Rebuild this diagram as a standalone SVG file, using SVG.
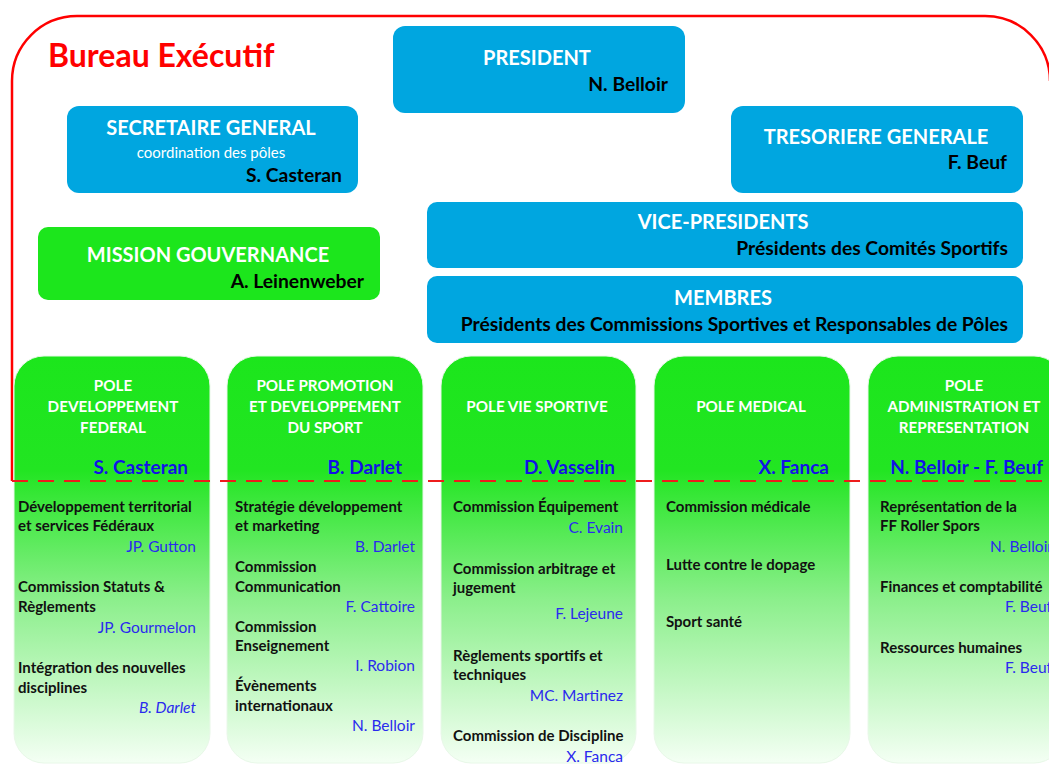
<svg xmlns="http://www.w3.org/2000/svg" width="1049" height="764" viewBox="0 0 1049 764">
<defs>
<linearGradient id="poleGrad" x1="0" y1="0" x2="0" y2="1">
<stop offset="0" stop-color="#1ce61c"/>
<stop offset="0.28" stop-color="#22e522"/>
<stop offset="0.6" stop-color="#8cef8c"/>
<stop offset="1" stop-color="#f4fff4"/>
</linearGradient>
<style>
text{font-family:Lato,"Open Sans","Liberation Sans",sans-serif}
.blue{fill:#00a6e0}
.green{fill:#1ce61c}
.pole{fill:url(#poleGrad);stroke:#e8f8e8;stroke-width:1}
.h{fill:#fff;font-weight:bold;font-size:20px;text-anchor:middle}
.sub{fill:#000;font-weight:bold;font-size:19.3px;text-anchor:end}
.ph{fill:#fff;font-weight:bold;font-size:15.2px;text-anchor:middle}
.pn{fill:#1212e6;font-weight:bold;font-size:19px;text-anchor:end}
.it{fill:#111;font-weight:bold;font-size:15px}
.nm{fill:#2a2aee;font-size:15.5px;text-anchor:end}
</style>
</defs>
<rect width="1049" height="764" fill="#fff"/>
<g id="frame">
<path d="M12 481 V81 A65 65 0 0 1 77 16 H985 A65 65 0 0 1 1050 81" fill="none" stroke="#ff0000" stroke-width="2.5"/>
<text x="48" y="67" font-size="32" font-weight="bold" fill="#ff0000">Bureau Exécutif</text>
</g>
<g id="president">
<rect class="blue" x="393" y="26" width="292" height="87" rx="12"/>
<text class="h" x="537" y="65">PRESIDENT</text>
<text class="sub" x="668" y="91">N. Belloir</text>
</g>
<g id="secretaire">
<rect class="blue" x="67" y="106" width="291" height="87" rx="12"/>
<text class="h" x="211" y="135">SECRETAIRE GENERAL</text>
<text x="211" y="158" fill="#fff" font-size="15" text-anchor="middle">coordination des pôles</text>
<text class="sub" x="342" y="182">S. Casteran</text>
</g>
<g id="tresoriere">
<rect class="blue" x="731" y="106" width="292" height="87" rx="12"/>
<text class="h" x="876" y="144">TRESORIERE GENERALE</text>
<text class="sub" x="1007" y="169">F. Beuf</text>
</g>
<g id="mission">
<rect class="green" x="38" y="227" width="342" height="73" rx="10"/>
<text class="h" x="208" y="262">MISSION GOUVERNANCE</text>
<text class="sub" x="364" y="288">A. Leinenweber</text>
</g>
<g id="vice">
<rect class="blue" x="427" y="202" width="596" height="66" rx="10"/>
<text class="h" x="723" y="229">VICE-PRESIDENTS</text>
<text class="sub" x="1008" y="255">Présidents des Comités Sportifs</text>
</g>
<g id="membres">
<rect class="blue" x="427" y="276" width="596" height="67" rx="10"/>
<text class="h" x="723" y="305">MEMBRES</text>
<text class="sub" x="1008" y="331">Présidents des Commissions Sportives et Responsables de Pôles</text>
</g>
<g id="pole1">
<rect class="pole" x="14" y="356" width="196" height="407" rx="30"/>
<text class="ph" x="113" y="391">POLE</text>
<text class="ph" x="113" y="412">DEVELOPPEMENT</text>
<text class="ph" x="113" y="433">FEDERAL</text>
<text class="pn" x="188" y="474">S. Casteran</text>
<text class="it" x="18" y="512">Développement territorial</text>
<text class="it" x="18" y="531">et services Fédéraux</text>
<text class="nm" x="196" y="552">JP. Gutton</text>
<text class="it" x="18" y="592">Commission Statuts &amp;</text>
<text class="it" x="18" y="612">Règlements</text>
<text class="nm" x="196" y="633">JP. Gourmelon</text>
<text class="it" x="18" y="673">Intégration des nouvelles</text>
<text class="it" x="18" y="693">disciplines</text>
<text class="nm" x="196" y="713" font-style="italic">B. Darlet</text>
</g>
<g id="pole2">
<rect class="pole" x="227" y="356" width="196" height="407" rx="30"/>
<text class="ph" x="325" y="391">POLE PROMOTION</text>
<text class="ph" x="325" y="412">ET DEVELOPPEMENT</text>
<text class="ph" x="325" y="433">DU SPORT</text>
<text class="pn" x="402" y="474">B. Darlet</text>
<text class="it" x="235" y="512">Stratégie développement</text>
<text class="it" x="235" y="531">et marketing</text>
<text class="nm" x="415" y="552">B. Darlet</text>
<text class="it" x="235" y="572">Commission</text>
<text class="it" x="235" y="592">Communication</text>
<text class="nm" x="415" y="612">F. Cattoire</text>
<text class="it" x="235" y="632">Commission</text>
<text class="it" x="235" y="651">Enseignement</text>
<text class="nm" x="415" y="671">I. Robion</text>
<text class="it" x="235" y="691">Évènements</text>
<text class="it" x="235" y="711">internationaux</text>
<text class="nm" x="415" y="731">N. Belloir</text>
</g>
<g id="pole3">
<rect class="pole" x="441" y="356" width="195" height="407" rx="30"/>
<text class="ph" x="537" y="412">POLE VIE SPORTIVE</text>
<text class="pn" x="615" y="474">D. Vasselin</text>
<text class="it" x="453" y="512">Commission Équipement</text>
<text class="nm" x="623" y="533">C. Evain</text>
<text class="it" x="453" y="574">Commission arbitrage et</text>
<text class="it" x="453" y="593">jugement</text>
<text class="nm" x="623" y="619">F. Lejeune</text>
<text class="it" x="453" y="661">Règlements sportifs et</text>
<text class="it" x="453" y="680">techniques</text>
<text class="nm" x="623" y="701">MC. Martinez</text>
<text class="it" x="453" y="741">Commission de Discipline</text>
<text class="nm" x="623" y="762">X. Fanca</text>
</g>
<g id="pole4">
<rect class="pole" x="654" y="356" width="196" height="407" rx="30"/>
<text class="ph" x="751" y="412">POLE MEDICAL</text>
<text class="pn" x="829" y="474">X. Fanca</text>
<text class="it" x="666" y="512">Commission médicale</text>
<text class="it" x="666" y="570">Lutte contre le dopage</text>
<text class="it" x="666" y="627">Sport santé</text>
</g>
<g id="pole5">
<rect class="pole" x="868" y="356" width="196" height="407" rx="30"/>
<text class="ph" x="964" y="391">POLE</text>
<text class="ph" x="964" y="412">ADMINISTRATION ET</text>
<text class="ph" x="964" y="433">REPRESENTATION</text>
<text class="pn" x="1043" y="474">N. Belloir - F. Beuf</text>
<text class="it" x="880" y="512">Représentation de la</text>
<text class="it" x="880" y="531">FF Roller Spors</text>
<text class="nm" x="1053" y="552">N. Belloir</text>
<text class="it" x="880" y="592">Finances et comptabilité</text>
<text class="nm" x="1052" y="612">F. Beuf</text>
<text class="it" x="880" y="653">Ressources humaines</text>
<text class="nm" x="1052" y="673">F. Beuf</text>
</g>
<g id="connectors">
<line x1="12" y1="481" x2="1049" y2="481" stroke="#ee1c1c" stroke-width="2" stroke-dasharray="16 10"/>
</g>
</svg>
